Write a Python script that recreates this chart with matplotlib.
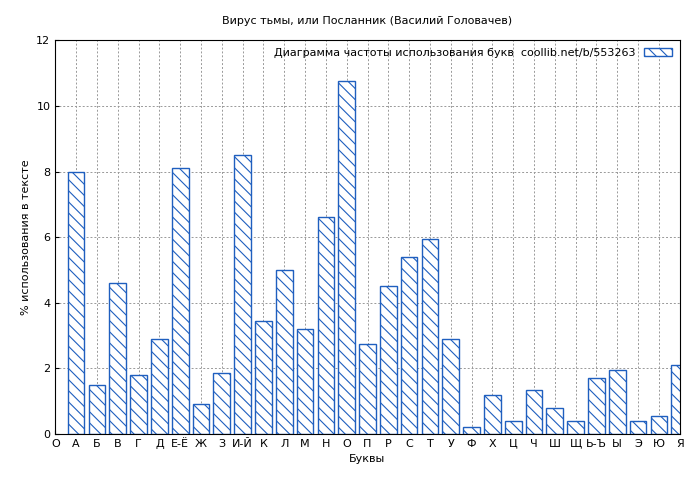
import matplotlib
matplotlib.use("Agg")
import matplotlib.pyplot as plt

letters = ["А", "Б", "В", "Г", "Д", "Е-Ё", "Ж", "З", "И-Й", "К", "Л", "М", "Н", "О", "П",
           "Р", "С", "Т", "У", "Ф", "Х", "Ц", "Ч", "Ш", "Щ", "Ь-Ъ", "Ы", "Э", "Ю", "Я"]
values = [8.0, 1.5, 4.6, 1.8, 2.9, 8.1, 0.9, 1.85, 8.5, 3.45, 5.0, 3.2, 6.6, 10.75, 2.75,
          4.5, 5.4, 5.95, 2.9, 0.2, 1.2, 0.4, 1.35, 0.8, 0.4, 1.7, 1.95, 0.4, 0.55, 2.1]

plt.rcParams['font.family'] = ['DejaVu Sans']
plt.rcParams['hatch.color'] = '#1f5fbf'
plt.rcParams['hatch.linewidth'] = 0.8

fig = plt.figure(figsize=(7, 4.8), dpi=100)
ax = fig.add_axes([0.079, 0.096, 0.892, 0.82])
pos = list(range(1, len(letters) + 1))
ax.bar(pos, values, width=0.8, facecolor='white', edgecolor='#1f5fbf', hatch='\\\\\\',
       linewidth=1, label='Диаграмма частоты использования букв  coollib.net/b/553263', zorder=2)
ax.set_xlim(0, 30)
ax.set_ylim(0, 12)
ax.set_xticks([0] + pos)
ax.set_xticklabels(["О"] + letters, fontsize=8)
ax.set_yticks(range(0, 13, 2))
ax.tick_params(labelsize=8, direction='in', length=3)
ax.grid(True, linestyle=(0, (2, 2)), color='#999999', linewidth=0.7, zorder=0)
ax.set_xlabel('Буквы', fontsize=8)
ax.set_ylabel('% использования в тексте', fontsize=8)
ax.set_title('Вирус тьмы, или Посланник (Василий Головачев)', fontsize=8, pad=12)
leg = ax.legend(loc='upper right', fontsize=8, frameon=False, markerfirst=False,
                handlelength=2.5, borderaxespad=0.3)
fig.savefig('out.png')
